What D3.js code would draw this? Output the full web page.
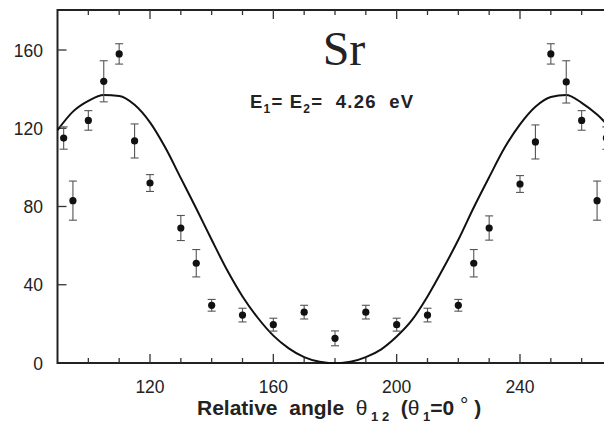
<!DOCTYPE html>
<html>
<head>
<meta charset="utf-8">
<script src="https://cdn.jsdelivr.net/npm/d3@7"></script>
<style>
  body { margin: 0; background: #fff; }
  svg { display: block; }
  text { font-family: "Liberation Sans", Arial, sans-serif; fill: #222; }
</style>
</head>
<body>
<div id="chart"></div>
<script>
// measured points (angle, counts, error)
const angles = [92, 95, 100, 105, 110, 115, 120, 130, 135, 140, 150, 160, 170, 180,
    190, 200, 210, 220, 225, 230, 240, 245, 250, 255, 260, 265, 268];
const counts = [115, 83, 124, 144, 158, 113.5, 92, 69, 51, 29.5, 24.5, 19.6, 26, 12.6,
    26, 19.6, 24.5, 29.5, 51, 69, 91.5, 113, 158, 143.7, 124, 83, 115];
const errors = [5.7, 10, 5, 10.5, 5.2, 8.7, 4.3, 6.4, 7, 3, 3.5, 3.3, 3.5, 3.8,
    3.5, 3.3, 3.5, 3, 7, 6.2, 4.3, 8.7, 5.2, 10.8, 5, 10, 5.7];

// theory curve
const curveAngles = [90, 95, 100, 105, 110, 115, 120, 125, 130, 135, 140, 145, 150, 155,
    160, 165, 170, 175, 178, 180, 182, 185, 190, 195, 200, 205, 210, 215, 220, 225,
    230, 235, 240, 245, 250, 255, 260, 265, 270];
const curveValues = [119, 128.5, 134, 137, 136.5, 132, 123, 110, 94.5, 79, 63, 47.5, 34, 23,
    14, 7.5, 3, 0.6, 0, 0, 0, 0.6, 3, 7, 13.5, 22, 34, 48, 63, 79.5,
    95, 110, 122, 131, 136, 137, 133, 127, 119];

const xMajor = [120, 160, 200, 240];
const xMinor = d3.range(90, 271, 10);
const yMajor = [0, 40, 80, 120, 160];

(function () {
const width = 604, height = 425;
const plotLeft = 57.5, plotRight = 612.5, plotTop = 10, plotBottom = 363;

const svg = d3.select("#chart")
    .append("svg")
    .attr("width", width)
    .attr("height", height);

const x = d3.scaleLinear().domain([90, 270]).range([plotLeft, plotRight]);
const y = d3.scaleLinear().domain([0, 160]).range([plotBottom, 50]);

// frame
const frame = svg.append("g").attr("stroke", "#222").attr("stroke-width", 2).attr("fill", "none");
frame.append("line").attr("x1", plotLeft).attr("x2", width).attr("y1", plotTop).attr("y2", plotTop);
frame.append("line").attr("x1", plotLeft).attr("x2", width).attr("y1", plotBottom).attr("y2", plotBottom);
frame.append("line").attr("x1", plotLeft).attr("x2", plotLeft).attr("y1", plotTop - 1).attr("y2", plotBottom + 1);

// x ticks, inward on bottom and top
function xTicks(yPos, dir) {
    svg.append("g")
        .attr("stroke", "#333")
        .attr("stroke-width", 1.3)
        .selectAll("line")
        .data(xMinor.filter(d => d > 90))
        .join("line")
        .attr("x1", d => x(d))
        .attr("x2", d => x(d))
        .attr("y1", yPos)
        .attr("y2", d => yPos + dir * (xMajor.includes(d) ? 9 : 5));
}
xTicks(plotBottom, -1);
xTicks(plotTop, 1);

svg.append("g")
    .selectAll("text")
    .data(xMajor)
    .join("text")
    .attr("x", d => x(d))
    .attr("y", 393)
    .attr("text-anchor", "middle")
    .attr("font-size", 17.5)
    .text(d => d);

// y ticks
svg.append("g")
    .attr("stroke", "#333")
    .attr("stroke-width", 1.3)
    .selectAll("line")
    .data(yMajor.filter(d => d > 0))
    .join("line")
    .attr("x1", plotLeft)
    .attr("x2", plotLeft + 9)
    .attr("y1", d => y(d))
    .attr("y2", d => y(d));

svg.append("g")
    .selectAll("text")
    .data(yMajor)
    .join("text")
    .attr("x", 43)
    .attr("y", d => y(d) + 6.5)
    .attr("text-anchor", "end")
    .attr("font-size", 17.5)
    .text(d => d);

// theory curve
const line = d3.line()
    .x((d, i) => x(curveAngles[i]))
    .y(d => y(d))
    .curve(d3.curveMonotoneX);

svg.append("path")
    .datum(curveValues)
    .attr("d", line)
    .attr("fill", "none")
    .attr("stroke", "#111")
    .attr("stroke-width", 2);

// error bars
const bars = svg.append("g").attr("stroke", "#555").attr("stroke-width", 1.1);
angles.forEach((a, i) => {
    const cx = x(a), lo = y(counts[i] - errors[i]), hi = y(counts[i] + errors[i]);
    bars.append("line").attr("x1", cx).attr("x2", cx).attr("y1", lo).attr("y2", hi);
    bars.append("line").attr("x1", cx - 4).attr("x2", cx + 4).attr("y1", lo).attr("y2", lo);
    bars.append("line").attr("x1", cx - 4).attr("x2", cx + 4).attr("y1", hi).attr("y2", hi);
});

svg.append("g")
    .selectAll("circle")
    .data(counts)
    .join("circle")
    .attr("cx", (d, i) => x(angles[i]))
    .attr("cy", d => y(d))
    .attr("r", 3.6)
    .attr("fill", "#111");

// labels
svg.append("text")
    .attr("x", 344)
    .attr("y", 65)
    .attr("text-anchor", "middle")
    .attr("font-size", 48)
    .style("font-family", "'Liberation Serif', 'Times New Roman', serif")
    .text("Sr");

const energy = svg.append("text")
    .attr("x", 250)
    .attr("y", 108)
    .attr("font-size", 18.5)
    .attr("font-weight", "bold")
    .attr("letter-spacing", 1.2)
    .style("white-space", "pre");
energy.append("tspan").text("E");
energy.append("tspan").attr("font-size", 12).attr("dy", 5).text("1");
energy.append("tspan").attr("dy", -5).text("= E");
energy.append("tspan").attr("font-size", 12).attr("dy", 5).text("2");
energy.append("tspan").attr("dy", -5).text("=  4.26  eV");

const xlabel = svg.append("text")
    .attr("x", 197)
    .attr("y", 415)
    .attr("font-size", 21)
    .attr("font-weight", "bold")
    .style("white-space", "pre");
xlabel.append("tspan").text("Relative  angle  ");
xlabel.append("tspan").attr("font-weight", "normal").text("θ");
xlabel.append("tspan").attr("font-size", 13).attr("dy", 6).text(" 1 2");
xlabel.append("tspan").attr("dy", -6).text("  (");
xlabel.append("tspan").attr("font-weight", "normal").text("θ");
xlabel.append("tspan").attr("font-size", 13).attr("dy", 6).text(" 1");
xlabel.append("tspan").attr("dy", -6).text("=0");
xlabel.append("tspan").attr("font-weight", "normal").attr("dy", -3).text(" °");
xlabel.append("tspan").attr("dy", 3).text(" )");
})();
</script>
</body>
</html>
